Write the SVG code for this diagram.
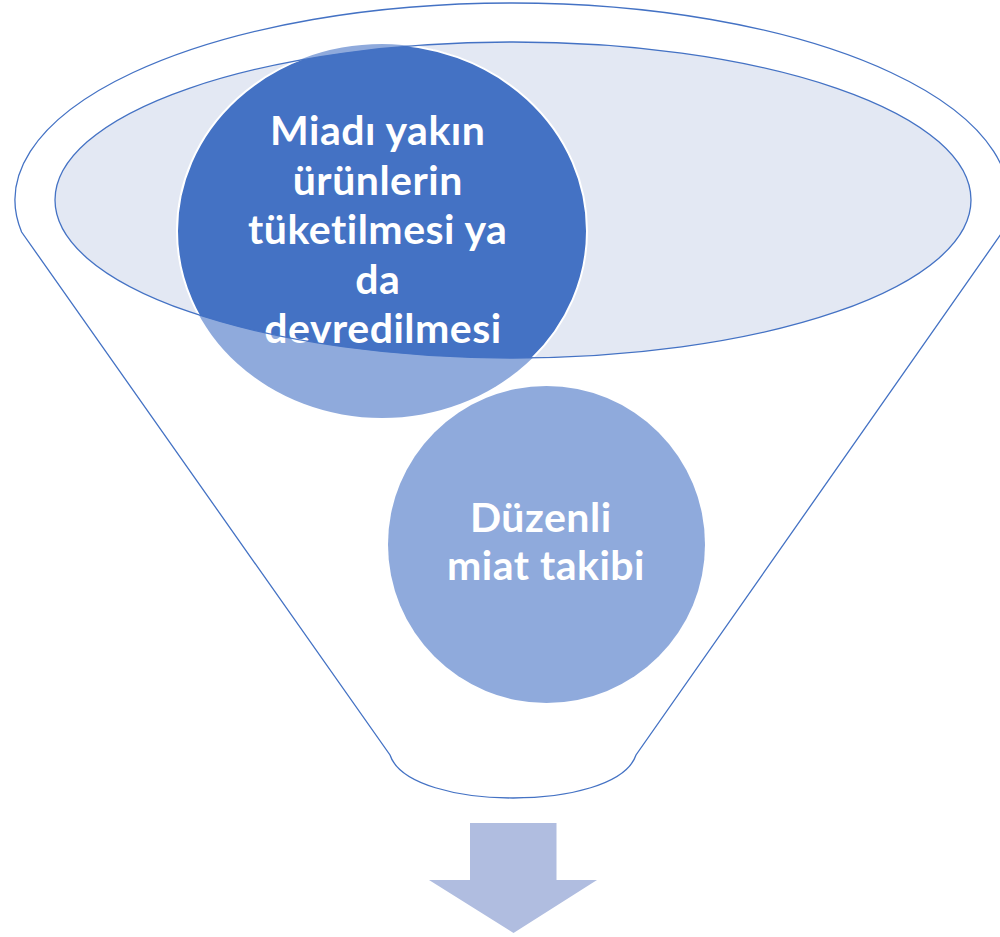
<svg xmlns="http://www.w3.org/2000/svg" width="1000" height="937" viewBox="0 0 1000 937">
  <style>
    .outline { fill: none; stroke: #4472C4; stroke-width: 1.3; }
    .label { font-family: Lato, "Open Sans", "Liberation Sans", sans-serif; font-weight: bold; font-size: 41px; letter-spacing: 0.5px; fill: #FFFFFF; text-anchor: middle; }
  </style>
  <defs>
    <clipPath id="innerClip">
      <ellipse cx="513" cy="200" rx="458" ry="158"/>
    </clipPath>
  </defs>
  <rect x="0" y="0" width="1000" height="937" fill="#FFFFFF"/>

  <g id="funnel">
    <path class="outline" d="M21.6,232 A497,197 0 1 1 1002.4,232 L636,755 C626,785 566,798 513,798 C460,798 400,785 390,755 Z" fill="#FFFFFF"/>
  </g>

  <g id="funnel-top">
    <ellipse cx="513" cy="200" rx="458" ry="158" fill="#E3E8F3"/>
  </g>

  <g id="node-1">
    <ellipse cx="382" cy="231" rx="205" ry="187" fill="#8FAADC"/>
    <g clip-path="url(#innerClip)">
      <ellipse cx="382" cy="231" rx="205" ry="187" fill="#4472C4" stroke="#FFFFFF" stroke-width="2"/>
    </g>
    <text class="label">
      <tspan x="383" y="145">Miadı yakın</tspan>
      <tspan x="383" y="194.5">ürünlerin</tspan>
      <tspan x="383" y="244">tüketilmesi ya</tspan>
      <tspan x="383" y="293.5">da</tspan>
      <tspan x="383" y="343">devredilmesi</tspan>
    </text>
  </g>

  <g id="funnel-top-edge">
    <ellipse class="outline" cx="513" cy="200" rx="458" ry="158"/>
  </g>

  <g id="node-2">
    <circle cx="546.5" cy="544.5" r="158.5" fill="#8FAADC"/>
    <text class="label">
      <tspan x="546" y="531.5">Düzenli</tspan>
      <tspan x="546" y="580">miat takibi</tspan>
    </text>
  </g>

  <g id="connectors">
    <polygon points="470,823 556.5,823 556.5,880 597,880 513.5,933 429,880 470,880" fill="#B0BDE0"/>
  </g>
</svg>
